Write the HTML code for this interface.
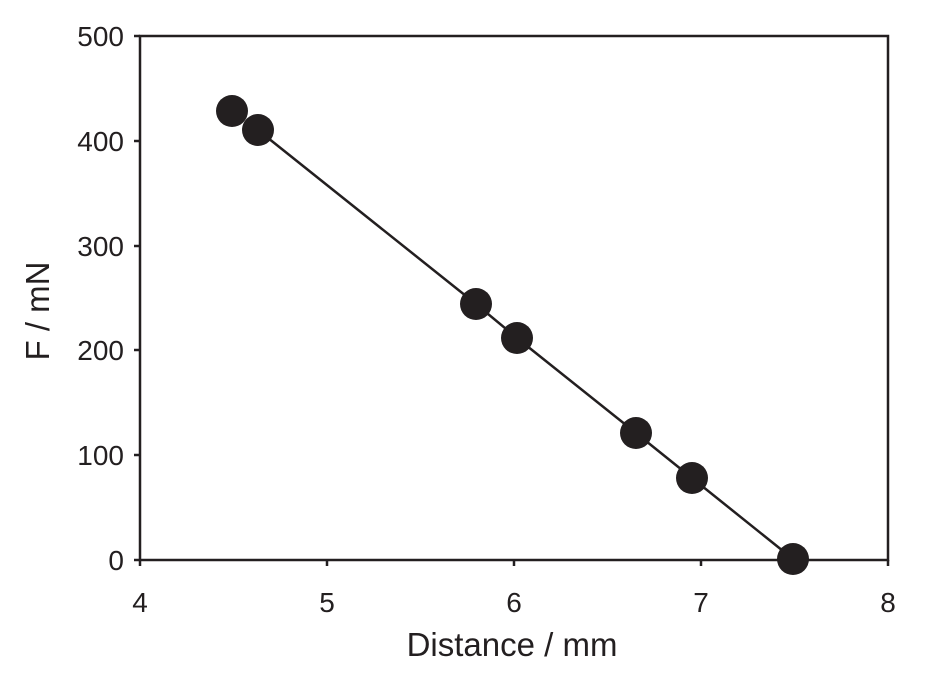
<!DOCTYPE html>
<html><head><style>body{margin:0;background:#fff}</style></head><body>
<svg width="932" height="672" xmlns="http://www.w3.org/2000/svg" font-family="Liberation Sans, sans-serif" fill="#231f20">
<rect x="140" y="36" width="748" height="524" fill="none" stroke="#231f20" stroke-width="2.5"/>
<g stroke="#231f20" stroke-width="2.5">
<line x1="134" y1="36" x2="140" y2="36"/><line x1="134" y1="141" x2="140" y2="141"/><line x1="134" y1="246" x2="140" y2="246"/><line x1="134" y1="350" x2="140" y2="350"/><line x1="134" y1="455" x2="140" y2="455"/><line x1="134" y1="560" x2="140" y2="560"/>
<line x1="140" y1="560" x2="140" y2="566"/><line x1="327" y1="560" x2="327" y2="566"/><line x1="514" y1="560" x2="514" y2="566"/><line x1="701" y1="560" x2="701" y2="566"/><line x1="888" y1="560" x2="888" y2="566"/>
<polyline points="258,130 476,304 517,338 636,433 692,478 793,559" fill="none"/>
</g>
<g font-size="28" text-anchor="end">
<text x="124" y="46">500</text><text x="124" y="151">400</text><text x="124" y="256">300</text><text x="124" y="360">200</text><text x="124" y="465">100</text><text x="124" y="570">0</text>
</g>
<g font-size="28" text-anchor="middle">
<text x="140" y="612">4</text><text x="327" y="612">5</text><text x="514" y="612">6</text><text x="701" y="612">7</text><text x="888" y="612">8</text>
<text x="512" y="656" font-size="33">Distance / mm</text>
<text transform="translate(49,311) rotate(-90)" font-size="33">F / mN</text>
</g>
<g>
<circle cx="232" cy="111" r="16"/><circle cx="258" cy="130" r="16"/><circle cx="476" cy="304" r="16"/><circle cx="517" cy="338" r="16"/><circle cx="636" cy="433" r="16"/><circle cx="692" cy="478" r="16"/><circle cx="793" cy="559" r="16"/>
</g>
</svg>
</body></html>
